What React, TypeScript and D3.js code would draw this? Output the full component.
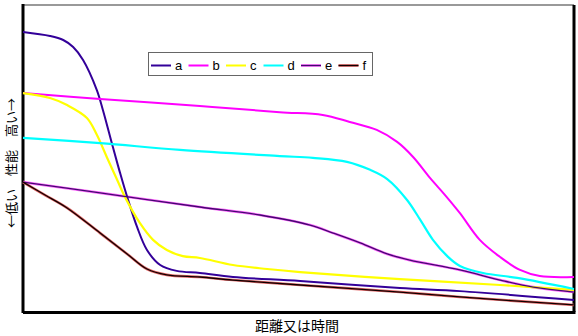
import React from "react";
import * as d3 from "d3";

const W = 578;
const H = 336;

const seriesNames = ["a", "b", "c", "d", "e", "f"];

const aX = [0, 4.9, 7.3, 9.1, 10.9, 13.4, 14.5, 16.3, 17.6, 18.9, 20.7, 22.5, 24.9, 27.9, 32.1, 38.1, 50.3, 68.4, 79.3, 100];
const aY = [91.2, 89.9, 88.6, 86.3, 82.1, 72.3, 65.8, 53.8, 45.4, 37.5, 27.7, 20.2, 15.3, 13.4, 12.7, 11.4, 10.1, 7.8, 6.8, 3.9];

const bX = [0, 14.0, 32.1, 46.6, 54.4, 59.3, 64.2, 67.9, 70.8, 73.9, 76.6, 79.3, 82.9, 86.6, 90.2, 93.8, 100];
const bY = [71.3, 69.4, 67.1, 65.1, 64.2, 61.9, 59.3, 55.4, 50.5, 43.6, 38.1, 32.2, 23.5, 17.9, 13.7, 11.7, 11.4];

const cX = [0, 4.9, 8.0, 11.6, 13.4, 15.2, 17.1, 18.5, 21.2, 23.6, 26.1, 29.0, 32.1, 38.1, 44.3, 50.3, 68.4, 86.6, 100];
const cY = [71.3, 69.7, 67.4, 63.2, 57.7, 50.5, 43.0, 37.5, 29.0, 23.5, 20.2, 18.2, 17.6, 15.3, 14.0, 13.0, 10.7, 8.8, 7.2];

const dX = [0, 14.0, 28.5, 46.6, 52.6, 58.8, 63.0, 66.1, 69.7, 72.1, 74.4, 77.0, 79.3, 83.5, 89.7, 100];
const dY = [56.7, 55.0, 52.8, 50.8, 50.2, 48.9, 46.3, 43.3, 36.5, 30.0, 23.5, 18.2, 15.0, 12.7, 11.1, 7.5];

const eX = [0, 14.0, 32.1, 43.0, 52.1, 56.3, 61.2, 66.1, 70.2, 79.3, 86.6, 92.6, 100];
const eY = [42.3, 38.8, 34.2, 31.6, 28.3, 25.7, 22.5, 18.9, 16.9, 13.7, 10.4, 8.1, 6.5];

const fX = [0, 4.0, 8.0, 14.0, 18.9, 22.5, 26.1, 32.1, 38.1, 50.3, 68.4, 79.3, 100];
const fY = [42.3, 38.1, 33.9, 25.7, 18.9, 14.0, 12.1, 11.4, 10.4, 8.8, 6.5, 4.9, 2.3];

const xLabel = "距離又は時間";
const yLabel = "←低い　性能　高い→";

const allX = [aX, bX, cX, dX, eX, fX];
const allY = [aY, bY, cY, dY, eY, fY];

const styles = [
  { under: null, color: "#330099", w: 2 },
  { under: null, color: "#ff00ff", w: 2 },
  { under: null, color: "#ffff00", w: 2.2 },
  { under: null, color: "#00ffff", w: 2.2 },
  { under: "#ff66ff", color: "#440a70", w: 1.3 },
  { under: "#e06060", color: "#100000", w: 1.3 },
];

export default function App() {
  const left = 23;
  const right = 574;
  const top = 5;
  const bottom = 312;
  const x = d3.scaleLinear().domain([0, 100]).range([left, right]);
  const y = d3.scaleLinear().domain([0, 100]).range([bottom, top]);
  const line = d3
    .line<[number, number]>()
    .x((d) => x(d[0]))
    .y((d) => y(d[1]))
    .curve(d3.curveCatmullRom.alpha(0.5));

  const paths = allX.map((xs, i) => line(xs.map((v, j) => [v, allY[i][j]] as [number, number])) || "");

  const legX = 148;
  const legY = 52;
  const legW = 224;
  const legH = 23;
  const step = 37.5;

  return (
    <svg
      width={W}
      height={H}
      style={{ position: "absolute", left: 0, top: 0, background: "#fff" }}
      fontFamily="'Noto Sans CJK JP', sans-serif"
    >
      <rect x={0} y={0} width={W} height={H} fill="#fff" />
      {/* frame */}
      <line x1={left} y1={top} x2={right} y2={top} stroke="#999" strokeWidth={2} />
      <line x1={right} y1={top} x2={right} y2={bottom} stroke="#000" strokeWidth={3} />
      <line x1={left} y1={top - 1} x2={left} y2={bottom + 1} stroke="#000" strokeWidth={3} />
      {/* series */}
      {paths.map((p, i) =>
        styles[i].under ? (
          <path key={"u" + i} d={p} fill="none" stroke={styles[i].under!} strokeWidth={2.6} />
        ) : null
      )}
      {paths.map((p, i) => (
        <path key={"p" + i} d={p} fill="none" stroke={styles[i].color} strokeWidth={styles[i].w} />
      ))}
      <line x1={left} y1={bottom + 0.5} x2={right + 1.5} y2={bottom + 0.5} stroke="#000" strokeWidth={3} />
      {/* legend */}
      <rect x={legX + 0.5} y={legY + 0.5} width={legW} height={legH} fill="#fff" stroke="#666" strokeWidth={1} />
      {seriesNames.map((n, i) => {
        const lx = legX + 3 + i * step;
        const ly = legY + 13.5;
        return (
          <g key={n}>
            {styles[i].under ? (
              <line x1={lx} y1={ly} x2={lx + 20} y2={ly} stroke={styles[i].under!} strokeWidth={2.6} />
            ) : null}
            <line x1={lx} y1={ly} x2={lx + 20} y2={ly} stroke={styles[i].color} strokeWidth={styles[i].under ? 1.3 : 2} />
            <text x={lx + 24} y={legY + 18} fontSize={13} fontFamily="'Liberation Sans', Arial, sans-serif" fill="#000">
              {n}
            </text>
          </g>
        );
      })}
      {/* axis labels */}
      <text x={297} y={331} fontSize={14} textAnchor="middle" fill="#000">
        {xLabel}
      </text>
      <text
        transform={`translate(16,163) rotate(-90)`}
        fontSize={13}
        textAnchor="middle"
        fill="#000"
      >
        {yLabel}
      </text>
    </svg>
  );
}
